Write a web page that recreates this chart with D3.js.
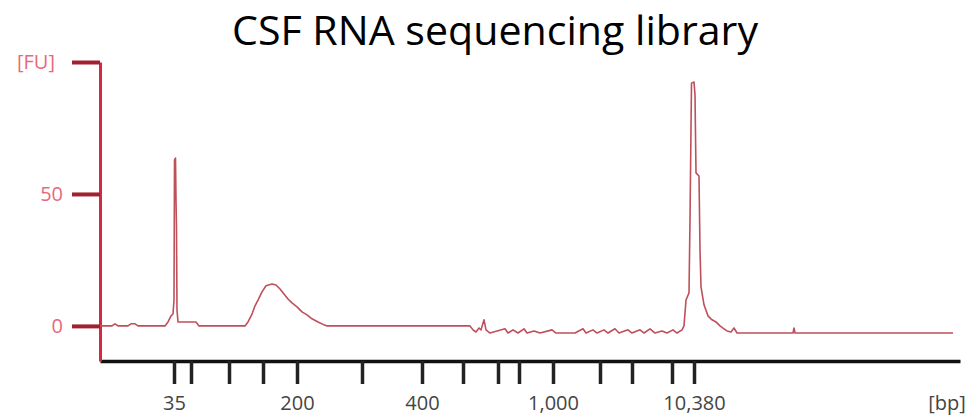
<!DOCTYPE html>
<html>
<head>
<meta charset="utf-8">
<script src="https://cdn.jsdelivr.net/npm/d3@7"></script>
<style>
  body { margin: 0; background: #fff; }
  svg { display: block; }
</style>
</head>
<body>
<div id="chart"></div>
<script>
// ladder fragments (bp) and their migration times (s)
var ladderSize = [35, 50, 100, 150, 200, 300, 400, 500, 600, 700, 1000, 2000, 3000, 7000, 10380];
var ladderTime = [47.4, 49.1, 52.9, 56.3, 59.7, 66.2, 72.2, 76.3, 79.8, 81.9, 85.3, 90.0, 93.2, 97.2, 99.4];
var labelledSizes = [35, 200, 400, 1000, 10380];

// y ticks (FU)
var fuTicks = [0, 50, 100];

// electropherogram trace: migration time (s) and fluorescence (FU)
var traceTime = [40.0, 41.2, 41.5, 41.8, 42.8, 43.1, 43.5, 43.8, 46.5, 46.8, 47.1, 47.3, 47.4, 47.45, 47.55, 47.6, 47.65, 47.7, 47.8,
  49.6, 49.9, 54.5, 54.8, 55.2, 55.5, 55.8, 56.2, 56.6, 57.2, 57.6, 58.0, 58.4, 58.8, 59.2, 59.7, 60.2, 60.7, 61.2, 61.8, 62.4, 62.7,
  77.0, 77.3, 77.6, 77.9, 78.1, 78.4, 78.6, 79.0, 80.5, 80.8, 81.3, 81.8, 82.4, 82.7, 83.4, 84.0, 85.2, 85.6, 87.5, 88.3, 88.6,
  89.3, 89.7, 90.4, 90.8, 91.5, 91.9, 92.8, 93.2, 94.0, 94.4, 95.0, 95.5, 96.2, 96.7, 97.3, 97.7, 98.2, 98.4, 98.6, 98.9, 99.0,
  99.15, 99.4, 99.5, 99.6, 99.9, 100.0, 100.1, 100.4, 100.8, 101.2, 101.6, 102.0, 102.4, 102.7, 103.1, 103.4, 103.7, 109.3, 109.4,
  109.5, 125.3];
var traceFU = [0, 0, 0.8, 0, 0, 0.8, 0.8, 0, 0, 1.5, 3.8, 4.5, 9.8, 62.9, 63.6, 47.7, 36.4, 6.1, 1.5,
  1.5, 0, 0, 1.5, 4.5, 7.6, 9.8, 12.9, 15.2, 15.9, 15.5, 14.0, 12.1, 10.2, 8.7, 7.2, 5.3, 4.2, 2.7, 1.5, 0.4, 0,
  0, -1.5, -2.3, -0.8, -1.5, 2.3, -1.5, -2.7, -1.1, -2.7, -1.5, -2.7, -1.1, -2.7, -1.9, -2.7, -1.5, -2.7, -2.7, -1.1, -2.7,
  -1.5, -2.7, -1.5, -2.7, -1.1, -2.7, -1.5, -2.7, -1.5, -2.7, -1.1, -2.7, -1.9, -2.7, -1.5, -2.7, -1.5, 0, 9.8, 12.5, 40.2,
  92.0, 92.4, 87.5, 58.0, 56.8, 28.8, 14.8, 8.0, 3.8, 2.3, 1.5, 0, -1.1, -1.9, -2.3, -0.8, -2.7, -2.7, -0.8,
  -2.7, -2.7];

var width = 971;
var height = 415;

var svg = d3.select("#chart")
  .append("svg")
  .attr("width", width)
  .attr("height", height);

// judul
var title = svg.append("text")
  .attr("x", 495)
  .attr("y", 45)
  .attr("text-anchor", "middle")
  .style("font-family", "'Open Sans', sans-serif")
  .style("font-size", "41px")
  .style("fill", "#000")
  .text("CSF RNA sequencing library");
title.attr("textLength", 526).attr("lengthAdjust", "spacingAndGlyphs");

var x = d3.scaleLinear().domain([40, 126]).range([100, 960]);
var y = d3.scaleLinear().domain([-13.3, 100]).range([361, 62]);

// sumbu x (hitam)
var xAxis = d3.axisBottom(x)
  .tickValues(ladderTime)
  .tickSize(23)
  .tickSizeOuter(0)
  .tickFormat(function (d, i) {
    var s = ladderSize[i];
    return labelledSizes.indexOf(s) >= 0 ? d3.format(",")(s) : "";
  });

var gx = svg.append("g")
  .attr("transform", "translate(0," + y(-13.3) + ")")
  .call(xAxis);
gx.select(".domain").attr("stroke", "#111").attr("stroke-width", 3.5);
gx.selectAll(".tick line").attr("stroke", "#222").attr("stroke-width", 3.5);
gx.selectAll(".tick text")
  .attr("y", 35)
  .style("font-family", "'Open Sans', sans-serif")
  .style("font-size", "20px")
  .style("fill", "#444");

gx.append("text")
  .attr("x", 947)
  .attr("y", 49)
  .attr("text-anchor", "middle")
  .style("font-family", "'Open Sans', sans-serif")
  .style("font-size", "20px")
  .style("fill", "#444")
  .text("[bp]");

// sumbu y (merah)
var yAxis = d3.axisLeft(y)
  .tickValues(fuTicks)
  .tickSize(28)
  .tickSizeOuter(0)
  .tickFormat(function (d) { return d === 100 ? "[FU]" : d; });

var gy = svg.append("g")
  .attr("transform", "translate(" + x(40) + ",0)")
  .call(yAxis);
gy.select(".domain").attr("stroke", "#d22a40").attr("stroke-width", 3);
gy.selectAll(".tick line").attr("stroke", "#a3202f").attr("stroke-width", 4);
gy.selectAll(".tick text")
  .attr("x", -37)
  .style("font-family", "'Open Sans', sans-serif")
  .style("font-size", "20px")
  .style("fill", "#e66a7a");
gy.selectAll(".tick text").filter(function (d) { return d === 100; }).attr("x", -45);

// garis elektroferogram
var trace = traceTime.map(function (t, i) { return { t: t, fu: traceFU[i] }; });
var line = d3.line()
  .x(function (d) { return x(d.t); })
  .y(function (d) { return y(d.fu); });

svg.append("path")
  .datum(trace)
  .attr("d", line)
  .attr("fill", "none")
  .attr("stroke", "#bf4f5b")
  .attr("stroke-width", 1.6)
  .attr("stroke-linejoin", "round");
</script>
</body>
</html>
